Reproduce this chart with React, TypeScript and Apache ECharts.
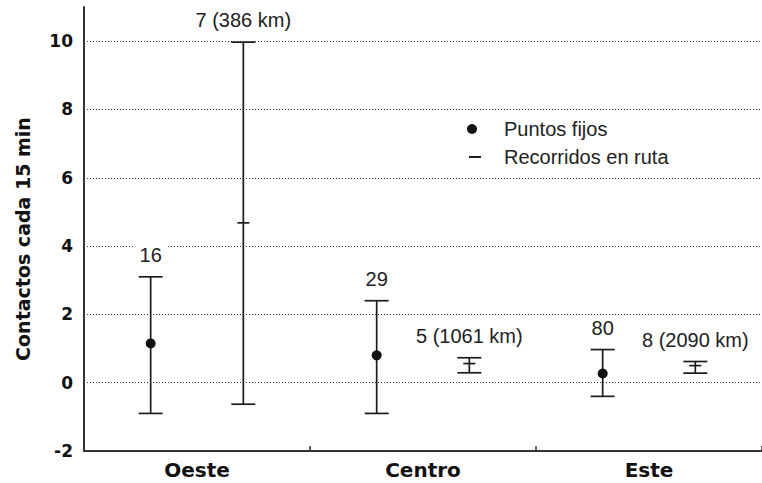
import React, { useEffect, useRef } from 'react';
import * as echarts from 'echarts';

const categories = ['Oeste', 'Centro', 'Este'];

const fijosMean = [1.15, 0.8, 0.27];
const fijosLow = [-0.9, -0.9, -0.4];
const fijosHigh = [3.1, 2.4, 0.97];
const fijosN = ['16', '29', '80'];

const rutaMean = [4.68, 0.56, 0.5];
const rutaLow = [-0.63, 0.29, 0.28];
const rutaHigh = [9.97, 0.73, 0.62];
const rutaN = ['7 (386 km)', '5 (1061 km)', '8 (2090 km)'];

const legendNames = ['Puntos fijos', 'Recorridos en ruta'];

const INK = '#1c1c1c';
const REG_FONT = '"Liberation Sans", Arial, sans-serif';
const BOLD_FONT = '"DejaVu Sans", Verdana, sans-serif';

function makeRender(labels: string[], shift: number, marker: 'dot' | 'dash') {
  return (params: any, api: any) => {
    const i = api.value(0);
    const band = api.size([1, 0])[0];
    const cx = api.coord([i, 0])[0] + band * shift;
    const yMean = api.coord([i, api.value(1)])[1];
    const yLow = api.coord([i, api.value(2)])[1];
    const yHigh = api.coord([i, api.value(3)])[1];
    const stroke = { stroke: INK, lineWidth: 1.7 };
    const half = 12;
    const children: any[] = [
      { type: 'line', shape: { x1: cx, y1: yHigh, x2: cx, y2: yLow }, style: stroke },
      { type: 'line', shape: { x1: cx - half, y1: yHigh, x2: cx + half, y2: yHigh }, style: stroke },
      { type: 'line', shape: { x1: cx - half, y1: yLow, x2: cx + half, y2: yLow }, style: stroke },
      marker === 'dot'
        ? { type: 'circle', shape: { cx, cy: yMean, r: 5 }, style: { fill: '#111' } }
        : { type: 'line', shape: { x1: cx - 6, y1: yMean, x2: cx + 6, y2: yMean }, style: stroke },
      {
        type: 'text',
        x: cx,
        y: yHigh - 22,
        style: {
          text: labels[i],
          fill: '#222',
          fontSize: 20,
          fontFamily: REG_FONT,
          align: 'center',
          verticalAlign: 'middle',
          backgroundColor: '#fff',
          padding: [2, 5],
        },
      },
    ];
    return { type: 'group', children };
  };
}

export default function App() {
  const ref = useRef<HTMLDivElement>(null);
  useEffect(() => {
    document.body.style.margin = '0';
    const chart = echarts.init(ref.current!, undefined, { renderer: 'svg' });
    const fijosData = categories.map((_, i) => [i, fijosMean[i], fijosLow[i], fijosHigh[i]]);
    const rutaData = categories.map((_, i) => [i, rutaMean[i], rutaLow[i], rutaHigh[i]]);
    chart.setOption({
      animation: false,
      backgroundColor: '#fff',
      grid: { left: 84, top: 7, width: 686, bottom: 32, containLabel: false },
      xAxis: {
        type: 'category',
        data: categories,
        boundaryGap: true,
        axisLine: { show: true, onZero: false, lineStyle: { color: '#333', width: 2 } },
        axisTick: { show: true, inside: true, length: 5, lineStyle: { color: '#333', width: 1.5 } },
        axisLabel: {
          color: '#111',
          fontSize: 20,
          fontWeight: 'bold',
          fontFamily: BOLD_FONT,
          margin: 9,
        },
        splitLine: { show: false },
      },
      yAxis: {
        type: 'value',
        min: -2,
        max: 11,
        interval: 2,
        name: 'Contactos cada 15 min',
        nameLocation: 'middle',
        nameGap: 52,
        nameTextStyle: {
          color: '#111',
          fontSize: 19,
          fontWeight: 'bold',
          fontFamily: BOLD_FONT,
          padding: [0, 20, 0, 0],
        },
        axisLine: { show: true, lineStyle: { color: '#333', width: 2 } },
        axisTick: { show: false },
        axisLabel: {
          color: '#111',
          fontSize: 17,
          fontWeight: 'bold',
          fontFamily: BOLD_FONT,
          margin: 11,
          showMaxLabel: false,
        },
        splitLine: {
          show: true,
          showMinLine: false,
          showMaxLine: false,
          lineStyle: { color: '#333', width: 1, type: [1, 2] },
        },
      },
      graphic: [
        { type: 'circle', shape: { cx: 472, cy: 129, r: 5 }, style: { fill: '#111' } },
        { type: 'line', shape: { x1: 469, y1: 157, x2: 481, y2: 157 }, style: { stroke: INK, lineWidth: 2 } },
        {
          type: 'text',
          x: 504,
          y: 129,
          style: { text: legendNames[0], fill: '#222', fontSize: 20, fontFamily: REG_FONT, verticalAlign: 'middle' },
        },
        {
          type: 'text',
          x: 504,
          y: 157,
          style: { text: legendNames[1], fill: '#222', fontSize: 20, fontFamily: REG_FONT, verticalAlign: 'middle' },
        },
      ],
      series: [
        {
          name: legendNames[0],
          type: 'custom',
          renderItem: makeRender(fijosN, -0.205, 'dot'),
          encode: { x: 0, y: [1, 2, 3] },
          data: fijosData,
          z: 5,
        },
        {
          name: legendNames[1],
          type: 'custom',
          renderItem: makeRender(rutaN, 0.205, 'dash'),
          encode: { x: 0, y: [1, 2, 3] },
          data: rutaData,
          z: 5,
        },
      ],
    });
    return () => chart.dispose();
  }, []);
  return <div ref={ref} style={{ position: 'fixed', left: 0, top: 0, width: 762, height: 483 }} />;
}
